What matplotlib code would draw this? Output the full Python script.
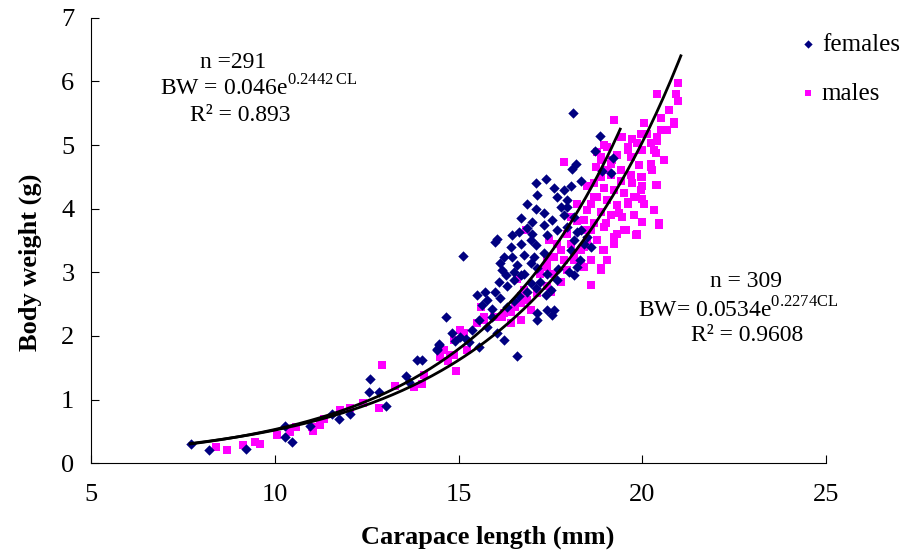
import numpy as np
import matplotlib
matplotlib.use('Agg')
import matplotlib.pyplot as plt

plt.rcParams['font.family'] = ['Liberation Serif', 'DejaVu Serif']
plt.rcParams['mathtext.fontset'] = 'custom'
plt.rcParams['mathtext.rm'] = 'Liberation Serif'

# females: carapace length (mm), body weight (g)
fem_cl = [7.72, 8.22, 9.21, 10.29, 10.27, 10.46, 10.95, 11.56, 11.76, 12.04,
          12.56, 12.60, 12.83, 13.04, 13.56, 13.65, 13.87, 14.01, 14.42, 14.46,
          14.65, 18.12, 15.12, 16.60, 18.85, 18.71, 18.19, 18.10, 17.39, 17.10,
          17.14, 17.59, 17.87, 17.69, 17.94, 16.87, 17.10, 17.32, 17.78, 17.87,
          17.55, 17.01, 16.69, 16.64, 16.87, 16.46, 16.05, 16.00, 16.42, 16.69,
          16.96, 17.10, 17.42, 17.69, 17.96, 18.23, 18.14, 16.46, 16.23, 16.78,
          17.05, 17.32, 16.96, 16.60, 16.14, 16.19, 16.51, 16.78, 17.14, 17.42,
          17.23, 16.96, 16.51, 16.10, 16.33, 16.00, 15.73, 15.51, 15.78, 16.14,
          16.64, 16.87, 17.10, 17.51, 17.69, 18.14, 15.64, 15.92, 16.33, 17.14,
          17.42, 17.55, 17.14, 15.55, 15.37, 15.78, 16.05, 14.83, 15.05, 15.28,
          14.46, 14.42, 15.55, 16.23, 19.14, 18.05, 18.32, 17.96, 18.14, 18.32,
          18.41, 18.05, 18.23, 17.32, 16.69, 17.37, 18.50, 18.60, 18.30, 17.70,
          16.50, 15.90, 17.00, 16.30, 15.20, 14.90, 17.60, 18.00, 18.90, 19.20]
fem_bw = [0.30, 0.20, 0.22, 0.59, 0.41, 0.33, 0.58, 0.78, 0.70, 0.77,
          1.12, 1.32, 1.12, 0.90, 1.37, 1.28, 1.62, 1.62, 1.79, 1.87,
          2.29, 5.51, 3.25, 1.68, 5.14, 4.91, 4.71, 4.63, 4.47, 4.40,
          4.21, 4.33, 4.29, 4.19, 4.14, 4.08, 4.00, 3.93, 4.03, 3.90,
          3.82, 3.79, 3.85, 3.64, 3.69, 3.58, 3.53, 3.48, 3.40, 3.45,
          3.51, 3.43, 3.58, 3.66, 3.72, 3.64, 3.51, 3.24, 3.24, 3.27,
          3.24, 3.30, 3.14, 3.11, 3.14, 3.03, 3.01, 2.98, 3.06, 2.98,
          2.85, 2.83, 2.88, 2.85, 2.78, 2.69, 2.69, 2.64, 2.56, 2.59,
          2.62, 2.69, 2.75, 2.72, 2.88, 2.96, 2.48, 2.43, 2.46, 2.36,
          2.41, 2.33, 2.25, 2.25, 2.09, 2.14, 2.04, 2.04, 1.99, 1.91,
          1.86, 1.78, 1.83, 1.93, 4.56, 4.35, 4.43, 4.03, 3.87, 3.66,
          3.45, 3.35, 3.09, 3.75, 2.95, 2.65, 3.55, 3.40, 3.20, 3.05,
          2.55, 2.30, 3.60, 2.95, 1.95, 1.92, 2.40, 3.00, 4.60, 4.80]

# males
male_cl = [8.41, 8.70, 9.13, 9.47, 9.59, 10.06, 10.42, 10.58, 11.03, 11.00,
           11.22, 11.35, 11.78, 12.06, 12.40, 12.83, 12.92, 13.28, 13.78, 14.01,
           14.05, 14.49, 14.72, 14.92, 14.89, 15.14, 19.23, 17.87, 20.46, 19.86,
           19.50, 18.87, 18.60, 19.00, 20.96, 20.91, 20.96, 20.41, 20.73, 20.87,
           20.50, 20.68, 20.05, 20.41, 20.23, 19.96, 19.73, 19.46, 19.60, 20.00,
           20.37, 20.59, 20.23, 19.91, 19.69, 19.32, 18.96, 18.78, 18.87, 19.14,
           19.41, 19.69, 19.96, 20.27, 20.41, 20.00, 19.73, 19.41, 19.14, 18.87,
           18.69, 18.96, 19.23, 19.50, 19.82, 20.00, 19.60, 19.32, 19.05, 18.78,
           18.60, 18.87, 19.14, 19.37, 20.00, 20.46, 19.55, 19.86, 18.69, 18.96,
           19.23, 18.46, 18.51, 18.78, 18.96, 18.32, 18.60, 18.87, 18.41, 18.14,
           20.87, 19.82, 20.37, 16.85, 16.60, 17.46, 17.42, 17.23, 17.51, 16.69,
           16.55, 16.19, 16.42, 15.69, 15.15, 14.51, 15.24, 14.78, 18.23, 18.51,
           18.69, 19.05, 19.19, 18.87, 18.73, 18.51, 18.23, 17.96, 18.05, 17.78,
           17.59, 17.87, 18.14, 18.41, 18.32, 17.96, 17.59, 17.78, 17.42, 17.14,
           16.87, 16.69, 16.42, 16.23, 15.96, 15.69, 15.51, 15.05, 14.87, 14.60,
           15.60, 16.69, 16.96, 16.78, 17.23, 17.42, 17.69, 18.05, 18.41, 18.60,
           18.78, 18.92, 19.05, 19.23, 19.32, 19.46, 19.60, 19.78, 19.96, 20.00,
           20.23, 20.32, 20.41, 20.50, 20.14, 19.86, 19.60, 19.41, 19.05, 20.32,
           20.05, 19.78]
male_bw = [0.26, 0.20, 0.28, 0.33, 0.30, 0.44, 0.49, 0.57, 0.50, 0.57,
           0.60, 0.70, 0.84, 0.86, 0.94, 0.87, 1.54, 1.21, 1.19, 1.24,
           1.38, 1.67, 1.61, 1.45, 1.70, 2.04, 5.39, 4.74, 3.74, 3.58,
           3.66, 3.03, 2.80, 3.77, 5.97, 5.81, 5.69, 5.80, 5.55, 5.33,
           5.42, 5.24, 5.35, 5.13, 5.03, 5.18, 5.10, 5.13, 4.97, 4.92,
           4.87, 4.76, 4.71, 4.69, 4.82, 4.84, 5.00, 4.89, 4.76, 4.71,
           4.61, 4.53, 4.50, 4.61, 4.37, 4.35, 4.40, 4.43, 4.53, 4.50,
           4.40, 4.32, 4.29, 4.24, 4.19, 4.16, 4.11, 4.06, 4.14, 4.19,
           4.08, 3.95, 3.90, 3.93, 3.79, 3.77, 3.66, 3.61, 3.77, 3.72,
           3.56, 3.66, 3.51, 3.51, 3.35, 3.35, 3.19, 3.06, 3.09, 3.19,
           5.37, 3.58, 4.37, 3.66, 2.90, 3.51, 3.09, 3.03, 2.69, 2.62,
           2.46, 2.30, 2.20, 2.30, 2.04, 1.67, 1.78, 1.70, 3.80, 3.98,
           4.19, 4.61, 4.76, 4.82, 4.66, 4.35, 4.08, 3.61, 3.45, 3.35,
           3.24, 3.19, 3.30, 3.40, 3.14, 3.03, 2.98, 2.85, 2.78, 2.67,
           2.56, 2.51, 2.38, 2.36, 2.30, 2.25, 2.20, 2.09, 1.93, 1.78,
           2.46, 2.25, 2.41, 2.72, 2.98, 3.19, 3.45, 3.87, 3.82, 3.66,
           3.51, 3.35, 3.19, 3.45, 3.61, 3.87, 4.08, 4.19, 4.29, 4.50,
           4.66, 4.92, 5.07, 5.24, 5.18, 5.03, 4.92, 5.13, 4.97, 3.98,
           4.08, 3.90]

# fitted models printed on the chart: BW = a * exp(b * CL)
fem_fit = [0.046, 0.2442]
male_fit = [0.0534, 0.2274]
fem_range = [7.7, 19.4]
male_range = [7.7, 21.05]

fig = plt.figure(figsize=(9.11, 5.58), dpi=100)
ax = fig.add_axes([0.0999, 0.170, 0.8068, 0.798])

ax.scatter(fem_cl, fem_bw, marker='D', s=28, color='#000080', linewidths=0,
           label='females', zorder=3)
ax.scatter(male_cl, male_bw, marker='s', s=28, color='#FF00FF', linewidths=0,
           label='males', zorder=2)

xf = np.linspace(fem_range[0], fem_range[1], 200)
ax.plot(xf, fem_fit[0] * np.exp(fem_fit[1] * xf), color='black', lw=2, zorder=4)
xm = np.linspace(male_range[0], male_range[1], 200)
ax.plot(xm, male_fit[0] * np.exp(male_fit[1] * xm), color='black', lw=2, zorder=4)

ax.set_xlim(5, 25)
ax.set_ylim(0, 7)
ax.set_xticks([5, 10, 15, 20, 25])
ax.set_yticks(range(0, 8))
ax.spines['top'].set_visible(False)
ax.spines['right'].set_visible(False)
ax.tick_params(direction='in', length=6, labelsize=19)
ax.tick_params(axis='x', pad=15)
ax.tick_params(axis='y', pad=12)
ax.set_xlabel('Carapace length (mm)', fontsize=19, fontweight='bold')
ax.set_ylabel('Body weight (g)', fontsize=19, fontweight='bold')
ax.xaxis.set_label_coords(0.54, -0.14)
ax.yaxis.set_label_coords(-0.066, 0.452)

ax.text(8.87, 6.30, 'n =291', fontsize=17, ha='center', va='center')
ax.text(9.55, 5.90, r'BW = 0.046e$^{0.2442\,\mathrm{CL}}$', fontsize=17,
        ha='center', va='center')
ax.text(9.06, 5.47, 'R² = 0.893', fontsize=17, ha='center', va='center')

ax.text(22.82, 2.85, 'n = 309', fontsize=17, ha='center', va='center')
ax.text(22.60, 2.41, r'BW= 0.0534e$^{0.2274\mathrm{CL}}$', fontsize=17,
        ha='center', va='center')
ax.text(22.85, 2.00, 'R² = 0.9608', fontsize=17, ha='center', va='center')

fig.legend(loc='upper left', bbox_to_anchor=(0.872, 0.94), frameon=False,
           fontsize=18, handletextpad=0.0, handlelength=1.1, labelspacing=1.05,
           markerscale=0.8, borderaxespad=0, borderpad=0)

fig.savefig('out.png', dpi=100)
